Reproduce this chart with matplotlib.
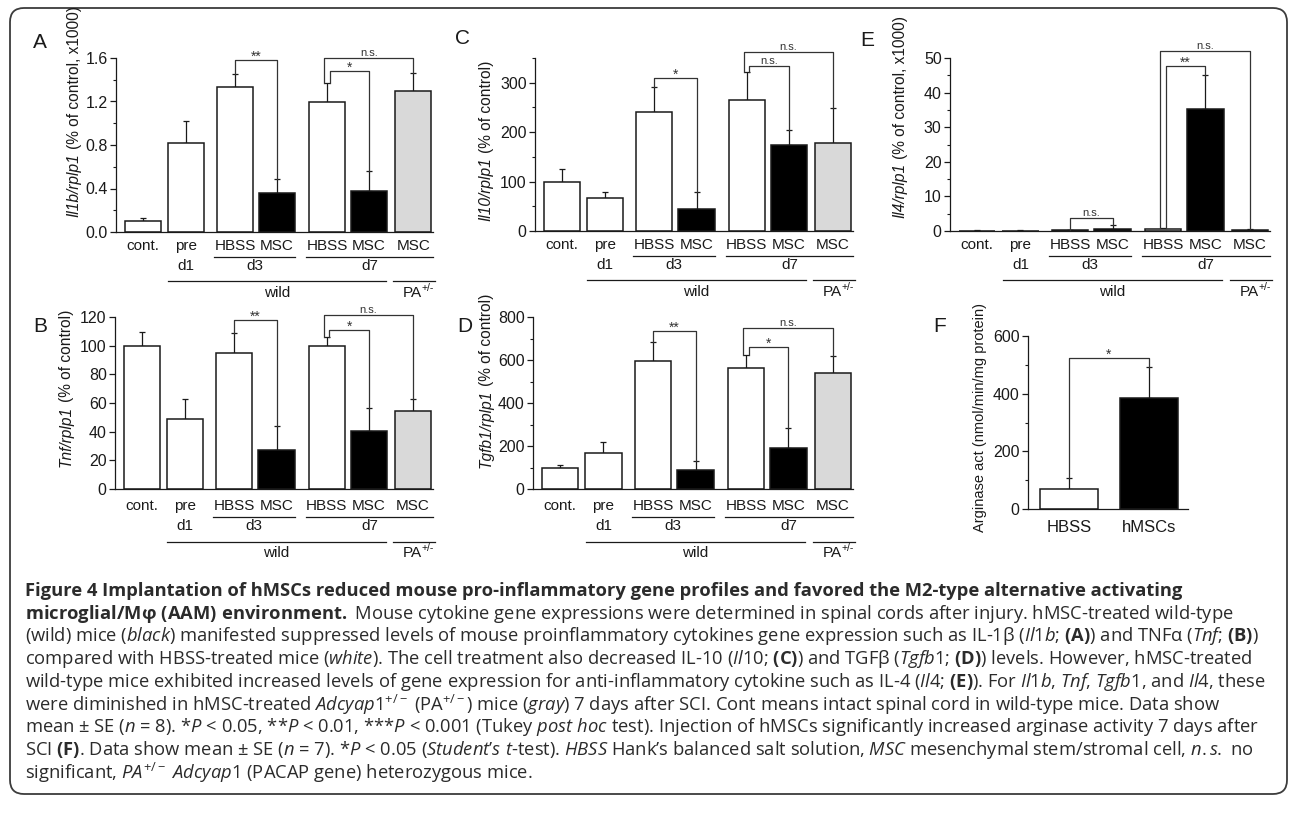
import matplotlib
matplotlib.use("Agg")
import matplotlib.pyplot as plt
import numpy as np
from matplotlib import transforms
from matplotlib.patches import FancyBboxPatch
from matplotlib.ticker import FormatStrFormatter

W, H = 1290, 818

# ---- data (mean, SE) ----
GROUPS = ["cont.", "pre", "HBSS", "MSC", "HBSS", "MSC", "MSC"]

il1b_mean = [0.10, 0.82, 1.33, 0.36, 1.20, 0.38, 1.30]
il1b_se = [0.03, 0.20, 0.12, 0.13, 0.17, 0.18, 0.16]
tnf_mean = [100, 48.6, 95, 27.2, 100, 40.5, 54.4]
tnf_se = [9.8, 14.2, 13.6, 16.8, 5.8, 16.0, 8.4]
il10_mean = [100, 67, 240, 45, 265, 173, 179]
il10_se = [26, 12, 51, 33, 56, 32, 69]
tgfb1_mean = [99, 166, 597, 87, 564, 192, 541]
tgfb1_se = [13, 51, 88, 45, 59, 93, 78]
il4_mean = [0.1, 0.1, 0.15, 0.6, 0.6, 35.4, 0.4]
il4_se = [0.05, 0.05, 0.05, 1.1, 0.4, 9.7, 0.2]

ARG_GROUPS = ["HBSS", "hMSCs"]
arg_mean = [68, 385]
arg_se = [38, 107]

# significance brackets: (left bar, right bar, bracket height, label)
il1b_sig = [(2, 3, 1.58, "**"), (4, 5, 1.48, "*"), (4, 6, 1.60, "n.s.")]
tnf_sig = [(2, 3, 118, "**"), (4, 5, 111, "*"), (4, 6, 121.4, "n.s.")]
il10_sig = [(2, 3, 310, "*"), (4, 5, 334, "n.s."), (4, 6, 362, "n.s.")]
tgfb1_sig = [(2, 3, 735, "**"), (4, 5, 662, "*"), (4, 6, 750, "n.s.")]
il4_sig = [(2, 3, 3.7, "n.s."), (4, 5, 47.7, "**"), (4, 6, 52, "n.s.")]
arg_sig = [(0, 1, 523, "*")]

# ---- layout / style ----
BAR_POS = [0, 1.02, 2.19, 3.19, 4.38, 5.38, 6.43]
BAR_W = 0.86
BAR_COLORS = ["white", "white", "white", "black", "white", "black", "#d9d9d9"]
INK = "#1a1a1a"
CAP_FONT = "Open Sans"

plt.rcParams["font.family"] = ["Liberation Sans", "DejaVu Sans"]
plt.rcParams["mathtext.fontset"] = "custom"
plt.rcParams["mathtext.rm"] = CAP_FONT
plt.rcParams["mathtext.it"] = CAP_FONT + ":italic"
plt.rcParams["mathtext.bf"] = CAP_FONT + ":bold"

fig = plt.figure(figsize=(W / 100, H / 100), dpi=100)

# overlay in pixel coordinates for border, letters, labels, caption
over = fig.add_axes([0, 0, 1, 1])
over.set_xlim(0, W)
over.set_ylim(H, 0)
over.axis("off")
over.add_patch(FancyBboxPatch((10, 8), 1277, 786,
                              boxstyle="round,pad=0,rounding_size=14",
                              fill=False, edgecolor="#3c3c3c", linewidth=1.3))


def px_axes(left, top, right, bottom):
    return fig.add_axes([left / W, 1 - bottom / H, (right - left) / W, (bottom - top) / H])


def under(ax, dy):
    """data-x / axes-y transform shifted dy pixels below the x axis"""
    return (transforms.blended_transform_factory(ax.transData, ax.transAxes)
            + transforms.ScaledTranslation(0, -dy / 100, fig.dpi_scale_trans))


def style_axes(ax, ymax, major, minor, fmt):
    for s in ("top", "right"):
        ax.spines[s].set_visible(False)
    for s in ("left", "bottom"):
        ax.spines[s].set_linewidth(0.9)
        ax.spines[s].set_color(INK)
    ax.set_ylim(0, ymax)
    ax.set_yticks(np.arange(0, ymax + major * 0.01, major))
    if minor:
        ax.set_yticks(np.arange(minor, ymax + minor * 0.01, 2 * minor), minor=True)
    ax.yaxis.set_major_formatter(FormatStrFormatter(fmt))
    ax.tick_params(axis="y", direction="out", length=4, width=0.9, labelsize=11.5,
                   pad=2, colors=INK)
    ax.tick_params(axis="y", which="minor", direction="out", length=2.5, width=0.8,
                   colors=INK)
    ax.tick_params(axis="x", length=0)
    ax.patch.set_alpha(0)


def brackets(ax, pos, tops, sig, fs_ns=8, fs_star=10):
    for i, j, top, lab in sig:
        xi, xj = pos[i], pos[j]
        if i == 4 and j == 5:
            xi += 0.06
        elif i == 4 and j == 6:
            xi -= 0.07
        ax.plot([xi, xi, xj, xj], [tops[i], top, top, tops[j]], color="#333333",
                lw=0.9, clip_on=False, zorder=3)
        fs = fs_ns if lab == "n.s." else fs_star
        dy = 2 if lab == "n.s." else -1
        ax.text((xi + xj) / 2, top, lab, ha="center", va="baseline", fontsize=fs,
                color="#333333", clip_on=False,
                transform=ax.transData + transforms.ScaledTranslation(0, dy / 100, fig.dpi_scale_trans))


def bar_panel(box, means, ses, sig, ymax, major, minor, fmt, offs):
    ax = px_axes(*box)
    ax.bar(BAR_POS, means, width=BAR_W, color=BAR_COLORS, edgecolor=INK,
           linewidth=1.1, zorder=2)
    ax.errorbar(BAR_POS, means, yerr=[np.zeros(len(ses)), ses], fmt="none",
                ecolor=INK, elinewidth=0.9, capsize=2.5, capthick=0.9, zorder=1)
    ax.set_xlim(-0.64, 6.9)
    style_axes(ax, ymax, major, minor, fmt)
    ax.set_xticks([])
    tops = [m + s for m, s in zip(means, ses)]
    brackets(ax, BAR_POS, tops, sig)

    r1, line1, r2, line2, r3 = offs
    for x, lab in zip(BAR_POS, GROUPS):
        ax.text(x, 0, lab, ha="center", va="center", fontsize=11, color=INK,
                transform=under(ax, r1))
    half = BAR_W / 2
    d3 = (BAR_POS[2] - half - 0.07, BAR_POS[3] + half)
    d7 = (BAR_POS[4] - half - 0.07, 6.9)
    for a, b in (d3, d7):
        ax.plot([a, b], [0, 0], color=INK, lw=0.9, clip_on=False, transform=under(ax, line1))
    for x, lab in ((BAR_POS[1], "d1"), (sum(d3) / 2, "d3"), (sum(d7) / 2, "d7")):
        ax.text(x, 0, lab, ha="center", va="center", fontsize=11, color=INK,
                transform=under(ax, r2))
    wild = (0.6, 5.78)
    pa = (5.95, 6.95)
    for a, b in (wild, pa):
        ax.plot([a, b], [0, 0], color=INK, lw=0.9, clip_on=False, transform=under(ax, line2))
    ax.text(sum(wild) / 2, 0, "wild", ha="center", va="center", fontsize=11, color=INK,
            transform=under(ax, r3))
    ax.text(6.64, 0, "PA", ha="right", va="center", fontsize=11, color=INK,
            transform=under(ax, r3))
    ax.text(6.62, 0, "+/-", ha="left", va="center", fontsize=7.5, color=INK,
            transform=under(ax, r3 - 5))
    return ax


TOP_OFFS = (14, 25, 34, 49, 61)
BOT_OFFS = (17, 28, 37, 53, 64)

bar_panel((116, 58, 433, 232), il1b_mean, il1b_se, il1b_sig, 1.6, 0.4, 0.2, "%.1f", TOP_OFFS)
bar_panel((535, 58, 853, 231), il10_mean, il10_se, il10_sig, 350, 100, 50, "%d", TOP_OFFS)
bar_panel((950, 58, 1270, 231), il4_mean, il4_se, il4_sig, 50, 10, 5, "%d", TOP_OFFS)
bar_panel((115, 317, 433, 489), tnf_mean, tnf_se, tnf_sig, 120, 20, None, "%d", BOT_OFFS)
bar_panel((533, 317, 853, 489), tgfb1_mean, tgfb1_se, tgfb1_sig, 800, 200, 100, "%d", BOT_OFFS)

# F: arginase activity
axf = px_axes(1028, 336, 1188, 509)
fpos = [0, 1]
axf.bar(fpos, arg_mean, width=0.725, color=["white", "black"], edgecolor=INK,
        linewidth=1.1, zorder=2)
axf.errorbar(fpos, arg_mean, yerr=[[0, 0], arg_se], fmt="none", ecolor=INK,
             elinewidth=0.9, capsize=2.5, capthick=0.9, zorder=1)
axf.set_xlim(-0.5125, 1.4875)
style_axes(axf, 600, 200, 100, "%d")
axf.set_xticks([])
brackets(axf, fpos, [m + s for m, s in zip(arg_mean, arg_se)], arg_sig)
for x, lab in zip(fpos, ARG_GROUPS):
    axf.text(x, 0, lab, ha="center", va="center", fontsize=12, color=INK,
             transform=under(axf, 18))

# panel letters
for lab, x, y in (("A", 40, 43), ("B", 40, 327), ("C", 462, 38),
                  ("D", 465, 327), ("E", 867, 40), ("F", 940, 327)):
    over.text(x, y, lab, fontsize=15, ha="center", va="center", color=INK)

# y labels: italic gene ratio + plain remainder, stacked end to end
YLABELS = [
    (74, 151, "Il1b/rplp1", "(% of control, x1000)"),
    (66, 404, "Tnf/rplp1", "(% of control)"),
    (486, 155, "Il10/rplp1", "(% of control)"),
    (486, 388, "Tgfb1/rplp1", "(% of control)"),
    (900, 161, "Il4/rplp1", "(% of control, x1000)"),
]
for x, y0, it, rest in YLABELS:
    over.text(x, y0 + 2, it, rotation=90, ha="center", va="top", fontsize=11.2,
              style="italic", color=INK)
    over.text(x, y0 - 2, rest, rotation=90, ha="center", va="bottom", fontsize=11.2,
              color=INK)
over.text(980, 532, "Arginase act (nmol/min/mg protein)", rotation=90, ha="center",
          va="bottom", fontsize=10.5, color=INK)

# caption
CAPTION = [
    "Figure 4 Implantation of hMSCs reduced mouse pro-inflammatory gene profiles and favored the M2-type alternative activating",
    r"$\mathbf{microglial/M\varphi\ (AAM)\ environment.\ }$Mouse cytokine gene expressions were determined in spinal cords after injury. hMSC-treated wild-type",
    r"(wild) mice ($\mathit{black}$) manifested suppressed levels of mouse proinflammatory cytokines gene expression such as IL-1β ($\mathit{Il1b}$; $\mathbf{(A)}$) and TNFα ($\mathit{Tnf}$; $\mathbf{(B)}$)",
    r"compared with HBSS-treated mice ($\mathit{white}$). The cell treatment also decreased IL-10 ($\mathit{Il10}$; $\mathbf{(C)}$) and TGFβ ($\mathit{Tgfb1}$; $\mathbf{(D)}$) levels. However, hMSC-treated",
    r"wild-type mice exhibited increased levels of gene expression for anti-inflammatory cytokine such as IL-4 ($\mathit{Il4}$; $\mathbf{(E)}$). For $\mathit{Il1b}$, $\mathit{Tnf}$, $\mathit{Tgfb1}$, and $\mathit{Il4}$, these",
    r"were diminished in hMSC-treated $\mathit{Adcyap1}^{+/-}$ ($\mathrm{PA}^{+/-}$) mice ($\mathit{gray}$) 7 days after SCI. Cont means intact spinal cord in wild-type mice. Data show",
    r"mean ± SE ($\mathit{n}$ = 8). *$\mathit{P}$ < $\mathit{0.05}$, **$\mathit{P}$ < $\mathit{0.01}$, ***$\mathit{P}$ < $\mathit{0.001}$ (Tukey $\mathit{post\ hoc}$ test). Injection of hMSCs significantly increased arginase activity 7 days after",
    r"SCI $\mathbf{(F)}$. Data show mean ± SE ($\mathit{n}$ = 7). *$\mathit{P}$ < $\mathit{0.05}$ ($\mathit{Student}$’$\mathit{s\ t}$-test). $\mathit{HBSS}$ Hank’s balanced salt solution, $\mathit{MSC}$ mesenchymal stem/stromal cell, $\mathit{n.s.\ }$no",
    r"significant, $\mathit{PA}^{+/-}$ $\mathit{Adcyap1}$ (PACAP gene) heterozygous mice.",
]
for k, line in enumerate(CAPTION):
    over.text(25, 591 + 22.7 * k, line, fontsize=13.2, family=[CAP_FONT, "DejaVu Sans"],
              fontweight="bold" if k == 0 else "normal", color="#2b2b2b",
              ha="left", va="center")

fig.savefig("out.png", dpi=100)
